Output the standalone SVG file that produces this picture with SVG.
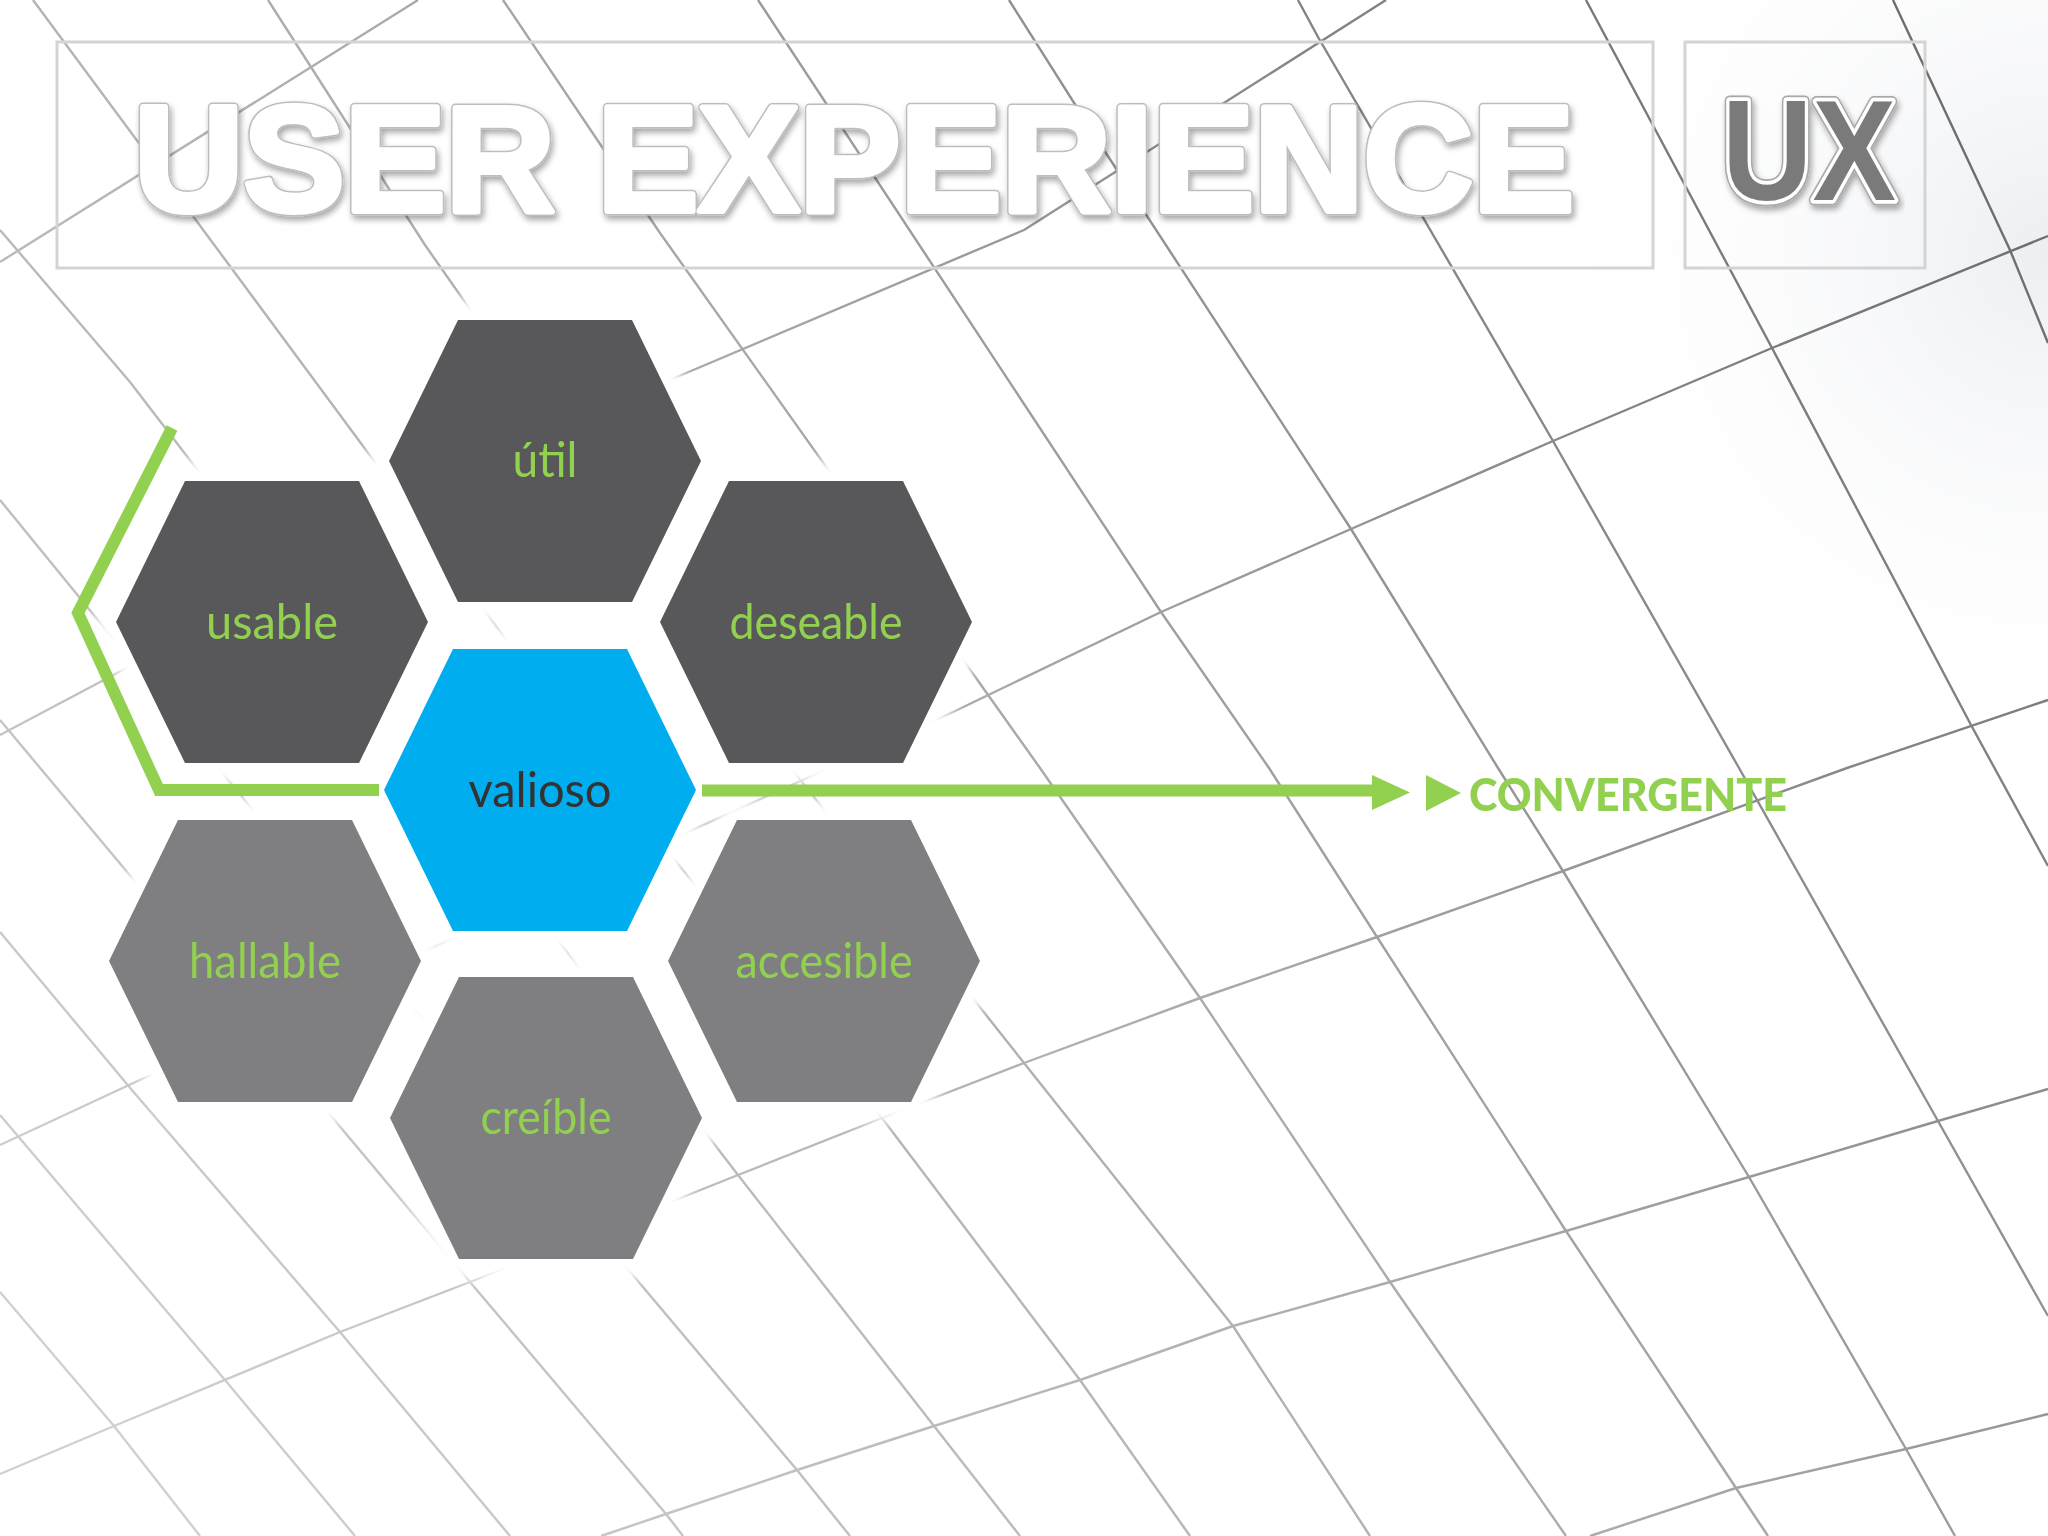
<svg xmlns="http://www.w3.org/2000/svg" xmlns:xlink="http://www.w3.org/1999/xlink" width="2048" height="1536" viewBox="0 0 2048 1536">
<defs>
<style>
.grid polyline{fill:none;stroke:url(#gridGrad);stroke-width:2.4;stroke-linejoin:round}
.halo{fill:#fff;stroke:#fff;stroke-width:40;stroke-linejoin:round}
.dark{fill:#58585a}
.light{fill:#7f7f81}
.blue{fill:#00aeef}
.lbl{font-family:Lato,"Open Sans",sans-serif;font-size:48px;fill:#92d050;text-anchor:middle}
.conn{fill:none;stroke:#92d050;stroke-width:12;stroke-linejoin:miter}
.tt{font-family:"Liberation Sans",Arial,sans-serif;font-weight:bold;font-size:150px}
.ux{font-family:"Liberation Sans",Arial,sans-serif;font-weight:bold;font-size:142px}
.box{fill:none;stroke:#d4d4d4;stroke-width:3}
</style>
<linearGradient id="gridGrad" gradientUnits="userSpaceOnUse" x1="200" y1="1500" x2="1900" y2="100">
<stop offset="0" stop-color="#d0d0d0"/>
<stop offset="0.5" stop-color="#aaaaaa"/>
<stop offset="1" stop-color="#6e6e6e"/>
</linearGradient>
<radialGradient id="corner" gradientUnits="userSpaceOnUse" cx="2048" cy="250" r="500">
<stop offset="0" stop-color="#eceef2"/>
<stop offset="1" stop-color="#ffffff" stop-opacity="0"/>
</radialGradient>
<filter id="soft" x="-5%" y="-5%" width="110%" height="110%"><feGaussianBlur stdDeviation="0.6"/></filter>
<filter id="haloBlur" x="-30%" y="-30%" width="160%" height="160%"><feGaussianBlur stdDeviation="7"/></filter>
<filter id="tshadow" x="-5%" y="-30%" width="110%" height="170%">
<feGaussianBlur in="SourceAlpha" stdDeviation="3"/>
<feOffset dx="2" dy="4"/>
<feComponentTransfer><feFuncA type="linear" slope="0.35"/></feComponentTransfer>
<feMerge><feMergeNode/><feMergeNode in="SourceGraphic"/></feMerge>
</filter>
<polygon id="hex" points="-156,0 -87,-141 87,-141 156,0 87,141 -87,141"/>
</defs>

<rect width="2048" height="1536" fill="#ffffff"/>
<rect width="2048" height="1536" fill="url(#corner)"/>

<g class="grid" filter="url(#soft)">
<polyline points="0,1292 114,1426 200,1536"/>
<polyline points="0,1115 225,1380 355,1536"/>
<polyline points="0,932 131,1089 340,1332 510,1536"/>
<polyline points="0,720 470,1282 666,1514 683,1536"/>
<polyline points="0,500 600,1236 797,1470 850,1536"/>
<polyline points="0,230 130,382 738,1175 934,1426 1020,1536"/>
<polyline points="33,0 255,300 601,768 882,1118 1080,1380 1190,1536"/>
<polyline points="268,0 425,245 791,768 1024,1063 1233,1326 1370,1536"/>
<polyline points="503,0 660,233 1040,768 1200,998 1390,1282 1566,1536"/>
<polyline points="758,0 1161,612 1269,768 1377,937 1566,1231 1736,1488 1768,1536"/>
<polyline points="1009,0 1102,147 1351,529 1498,768 1563,871 1749,1177 1906,1449 1955,1536"/>
<polyline points="1298,0 1318,37 1553,441 1739,768 1938,1121 2048,1316"/>
<polyline points="1586,0 1772,348 1971,725 2048,866"/>
<polyline points="1893,0 2010,250 2048,343"/>
<polyline points="0,262 418,0"/>
<polyline points="0,735 672,379 1024,230 1386,0"/>
<polyline points="0,1145 157,1072 953,712 1161,612 1351,529 1553,441 1772,348 2048,236"/>
<polyline points="0,1474 114,1426 340,1332 470,1282 738,1175 882,1118 1024,1063 1200,998 1377,937 1563,871 1847,768 2048,700"/>
<polyline points="601,1536 666,1514 797,1470 934,1426 1080,1380 1233,1326 1390,1282 1566,1231 1749,1177 1938,1121 2048,1089"/>
<polyline points="1590,1536 1736,1488 1906,1449 2048,1414"/>
</g>

<g id="title">
<rect class="box" x="57" y="42" width="1596" height="226"/>
<g filter="url(#tshadow)">
<text class="tt" x="134" y="211" textLength="1440" lengthAdjust="spacingAndGlyphs" fill="#bdbdbd" stroke="#bdbdbd" stroke-width="9" stroke-linejoin="round">USER EXPERIENCE</text>
</g>
<text class="tt" x="134" y="211" textLength="1440" lengthAdjust="spacingAndGlyphs" fill="#ffffff" stroke="#ffffff" stroke-width="6" stroke-linejoin="round">USER EXPERIENCE</text>
</g>

<g id="ux">
<rect class="box" x="1685" y="42" width="240" height="226"/>
<g filter="url(#tshadow)">
<text class="ux" x="1722" y="200" textLength="174" lengthAdjust="spacingAndGlyphs" fill="#a8a8a8" stroke="#a8a8a8" stroke-width="11" stroke-linejoin="round">UX</text>
</g>
<text class="ux" x="1722" y="200" textLength="174" lengthAdjust="spacingAndGlyphs" fill="#ffffff" stroke="#ffffff" stroke-width="7.5" stroke-linejoin="round">UX</text>
<text class="ux" x="1722" y="200" textLength="174" lengthAdjust="spacingAndGlyphs" fill="#7a7a7a">UX</text>
</g>

<g id="halos" filter="url(#haloBlur)">
<use xlink:href="#hex" class="halo" x="545" y="461"/>
<use xlink:href="#hex" class="halo" x="272" y="622"/>
<use xlink:href="#hex" class="halo" x="816" y="622"/>
<use xlink:href="#hex" class="halo" x="540" y="790"/>
<use xlink:href="#hex" class="halo" x="265" y="961"/>
<use xlink:href="#hex" class="halo" x="824" y="961"/>
<use xlink:href="#hex" class="halo" x="546" y="1118"/>
</g>

<g id="connectors">
<polyline class="conn" points="172,428 78,613 159,790 379,790"/>
<line class="conn" x1="702" y1="790.5" x2="1376" y2="790.5"/>
<polygon points="1372,775 1410,792.5 1372,810" fill="#92d050"/>
</g>

<g id="node-util">
<use xlink:href="#hex" class="dark" x="545" y="461"/>
<text class="lbl" x="545" y="477" textLength="65" lengthAdjust="spacingAndGlyphs">útil</text>
</g>
<g id="node-usable">
<use xlink:href="#hex" class="dark" x="272" y="622"/>
<text class="lbl" x="272" y="639" textLength="132" lengthAdjust="spacingAndGlyphs">usable</text>
</g>
<g id="node-deseable">
<use xlink:href="#hex" class="dark" x="816" y="622"/>
<text class="lbl" x="816" y="639" textLength="173" lengthAdjust="spacingAndGlyphs">deseable</text>
</g>
<g id="node-valioso">
<use xlink:href="#hex" class="blue" x="540" y="790"/>
<text class="lbl" x="540" y="807" textLength="143" lengthAdjust="spacingAndGlyphs" style="fill:#333333">valioso</text>
</g>
<g id="node-hallable">
<use xlink:href="#hex" class="light" x="265" y="961"/>
<text class="lbl" x="265" y="978" textLength="152" lengthAdjust="spacingAndGlyphs">hallable</text>
</g>
<g id="node-accesible">
<use xlink:href="#hex" class="light" x="824" y="961"/>
<text class="lbl" x="824" y="978" textLength="177" lengthAdjust="spacingAndGlyphs">accesible</text>
</g>
<g id="node-creible">
<use xlink:href="#hex" class="light" x="546" y="1134" transform="translate(0,-16)"/>
<text class="lbl" x="546" y="1134" textLength="131" lengthAdjust="spacingAndGlyphs">creíble</text>
</g>

<g id="node-convergente">
<polygon points="1426,775 1461,793 1426,811" fill="#92d050"/>
<text x="1469" y="811" textLength="318" lengthAdjust="spacingAndGlyphs" font-family="Lato,'Open Sans',sans-serif" font-weight="900" font-size="46" fill="#92d050">CONVERGENTE</text>
</g>
</svg>
